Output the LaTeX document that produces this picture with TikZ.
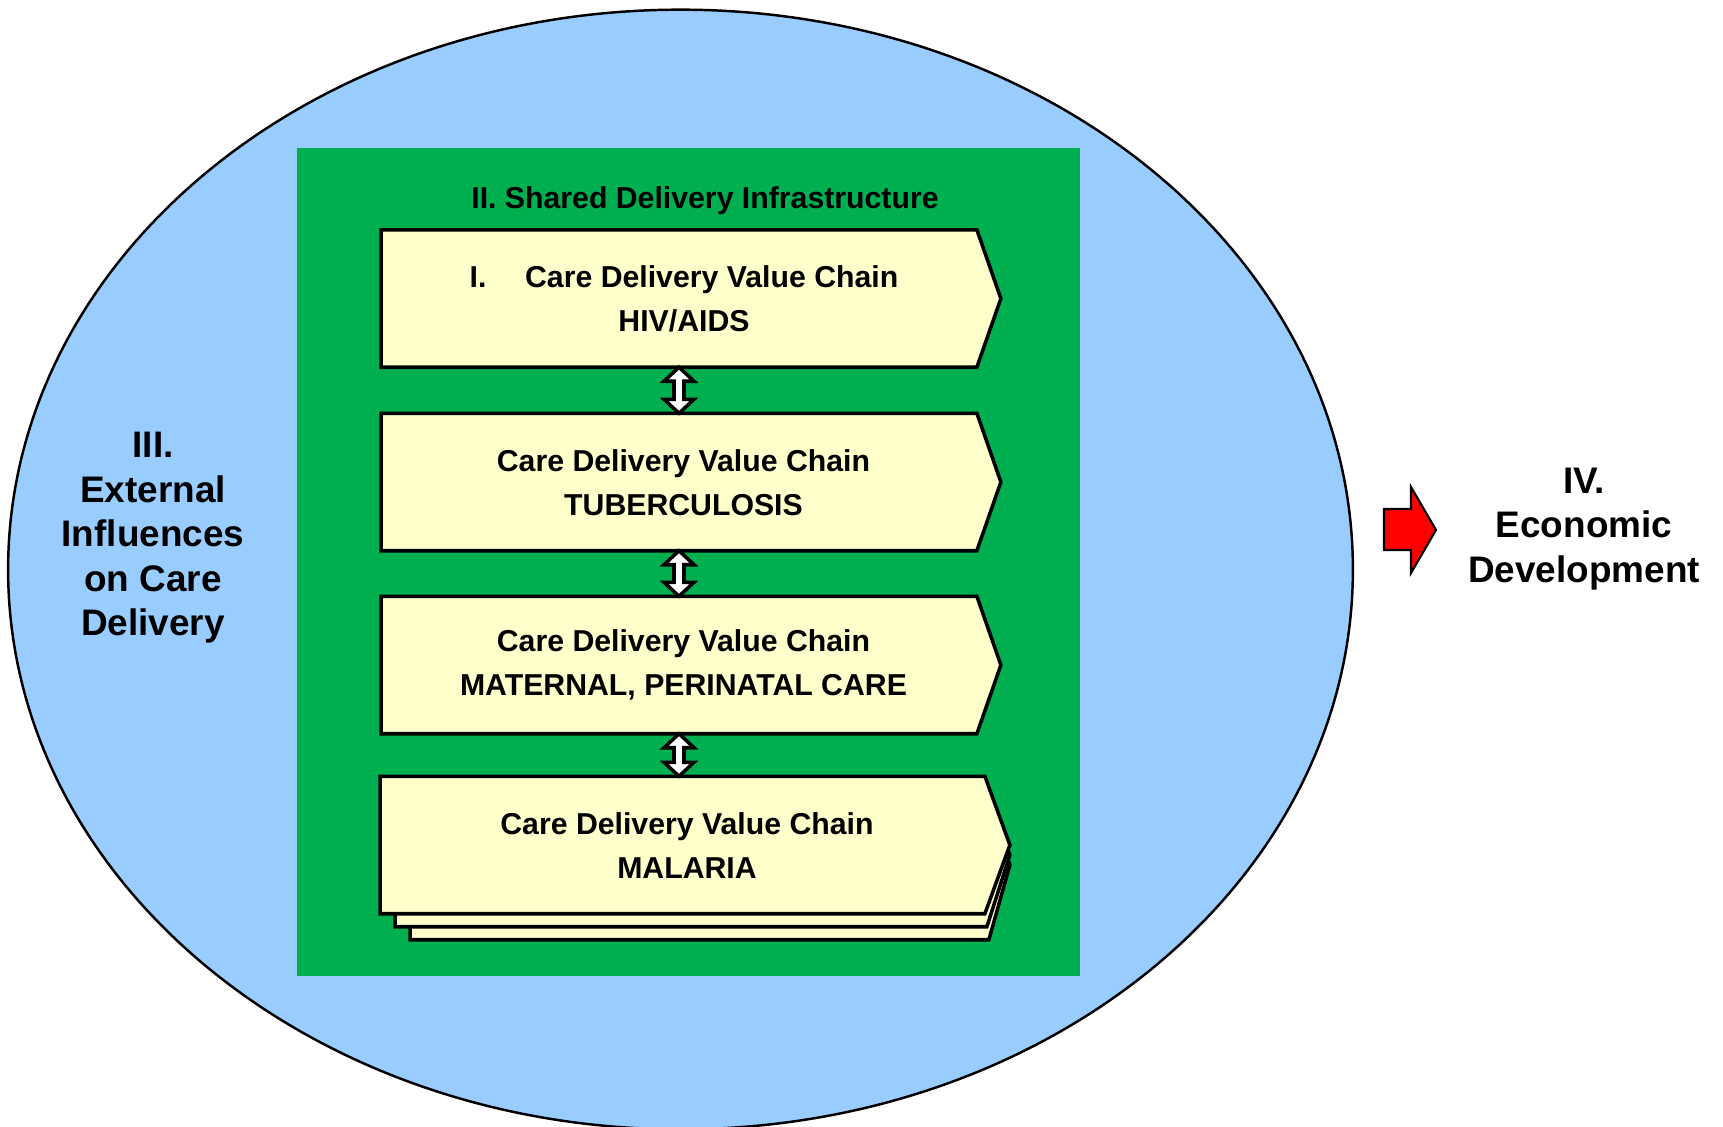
\documentclass[tikz,border=0pt]{standalone}
\usepackage{fontspec}
\setmainfont{Liberation Sans}
\usetikzlibrary{calc}

\definecolor{skyfill}{HTML}{99CCFF}
\definecolor{infragreen}{HTML}{00AF50}
\definecolor{chainfill}{HTML}{FFFFCC}
\definecolor{arrowred}{HTML}{FF0000}

% white two-headed block arrow between two anchors (drawn top to bottom)
\newcommand\linkarrow[2]{%
  \draw[linkstyle] (#1) -- ($(#1)+(15,14)$) -- ($(#1)+(5,14)$) -- ($(#2)+(5,-14)$)
    -- ($(#2)+(15,-14)$) -- (#2) -- ($(#2)+(-15,-14)$) -- ($(#2)+(-5,-14)$)
    -- ($(#1)+(-5,14)$) -- ($(#1)+(-15,14)$) -- cycle;}

% pointed value-chain outline around a slot node
\newcommand\chainoutline[2]{%
  \draw[chainedge] (#1.north west) -- (#1.north east) -- ($(#1.east)+(#2,0)$)
    -- (#1.south east) -- (#1.south west) -- cycle;}

\begin{document}
\begin{tikzpicture}[x=0.01cm,y=-0.01cm,
  chainedge/.style={draw=black, line width=1pt, fill=chainfill, line join=miter},
  linkstyle/.style={draw=black, line width=1pt, fill=white, line join=miter},
  slot/.style={rectangle, inner sep=0pt, minimum height=1.36cm, minimum width=#1},
  chaintext/.style={align=center, inner sep=0pt,
    font=\fontsize{8.6}{12.5}\selectfont\bfseries},
  bigtext/.style={align=center, inner sep=0pt,
    font=\fontsize{10.5}{12.66}\selectfont\bfseries}]

\useasboundingbox (0,0) rectangle (1723,1127);
\fill[white] (0,0) rectangle (1723,1127);

% outer ring of external influences
\draw[fill=skyfill, line width=0.7pt] (680.5,569.5) ellipse [x radius=6.72cm, y radius=5.595cm];

% shared delivery infrastructure panel
\node[fill=infragreen, inner sep=0pt, minimum width=7.83cm, minimum height=8.28cm] (infra) at (688.5,562) {};
\node[chaintext] (title) at (705,201) {II. Shared Delivery Infrastructure};

% value chain slots
\node[slot=5.94cm] (b1) at (679,298.5) {};
\node[slot=5.94cm] (b2) at (679,482) {};
\node[slot=5.94cm] (b3) at (679,665) {};
\node[slot=6.03cm] (b4) at (682.5,845) {};

\chainoutline{b1}{24}
\chainoutline{b2}{24}
\chainoutline{b3}{24}

% stacked sheets behind the last chain
\foreach \k in {2,1}{
  \draw[chainedge] ($(b4.north west)+(15*\k,13*\k)$) -- ($(b4.north east)+(2*\k,13*\k)$)
    -- ($(b4.east)+(25,10*\k)$) -- ($(b4.south east)+(2*\k,13*\k)$)
    -- ($(b4.south west)+(15*\k,13*\k)$) -- cycle;
}
\chainoutline{b4}{25}

\node[chaintext] (t1) at (684,299) {I.\hspace{11pt}Care Delivery Value Chain\\HIV/AIDS};
\node[chaintext] (t2) at (683.5,482.5) {Care Delivery Value Chain\\TUBERCULOSIS};
\node[chaintext] (t3) at (683.5,665) {Care Delivery Value Chain\\MATERNAL, PERINATAL CARE};
\node[chaintext] (t4) at (687,846) {Care Delivery Value Chain\\MALARIA};

% links between chains
\coordinate (a4) at (b3.south |- b4.north);
\linkarrow{b1.south}{b2.north}
\linkarrow{b2.south}{b3.north}
\linkarrow{b3.south}{a4}

% side labels
\node[bigtext] (ext) at (153,538) {III.\\External\\Influences\\on Care\\Delivery};
\node[bigtext] (econ) at (1584,529) {IV.\\Economic\\Development};

% arrow toward economic development
\draw[fill=arrowred, draw=black, line width=0.6pt, line join=miter]
  (1384,509) -- (1411,509) -- (1411,487) -- (1436,530) -- (1411,573) -- (1411,550) -- (1384,550) -- cycle;

\end{tikzpicture}
\end{document}
